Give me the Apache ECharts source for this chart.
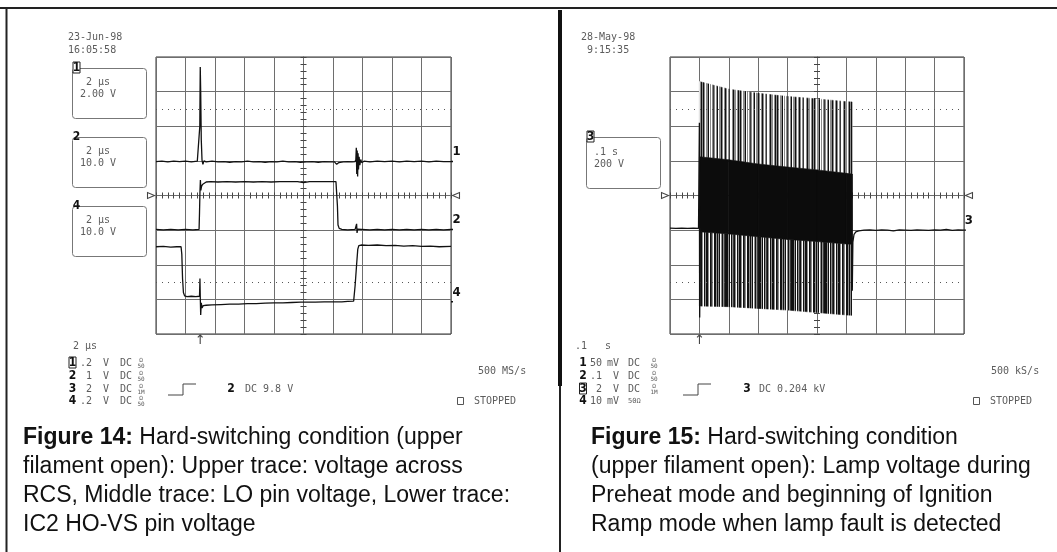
<!DOCTYPE html>
<html>
<head>
<meta charset="utf-8">
<title>Figure 14 / Figure 15</title>
<script src="https://cdn.jsdelivr.net/npm/echarts@6/dist/echarts.min.js"></script>
<style>
  html, body { margin: 0; padding: 0; background: #fff; }
  #scopes { width: 1057px; height: 552px; }
</style>
</head>
<body>
<div id="scopes"></div>
<script>
// ---------- Figure 14 : time in µs (2 µs/div), amplitude in divisions ----------
const ch1Time = [-10, -9.6, -9.2, -8.8, -8.4, -8.0, -7.6, -7.2, -7.08, -7.03, -7.0, -6.97, -6.93, -6.88, -6.82, -6.75, -6.6, -6.2, -5.8, -5.4, -5.0, -4.6, -4.2, -3.8, -3.4, -3.0, -2.6, -2.2, -1.8, -1.4, -1.0, -0.6, -0.2, 0.2, 0.6, 1.0, 1.4, 1.8, 2.1, 2.25, 2.4, 2.7, 3.0, 3.3, 3.5, 3.55, 3.58, 3.61, 3.64, 3.67, 3.70, 3.73, 3.77, 3.82, 3.88, 3.95, 4.1, 4.5, 5.0, 5.5, 6.0, 6.5, 7.0, 7.5, 8.0, 8.5, 9.0, 9.5, 10];
const ch1Volt = [0.98, 0.99, 0.97, 0.99, 0.98, 0.99, 0.97, 0.99, 0.98, 2.0, 3.71, 3.0, 1.6, 1.02, 0.9, 1.0, 0.97, 0.99, 0.97, 0.98, 0.96, 0.98, 0.97, 0.99, 0.97, 0.98, 0.96, 0.98, 0.97, 0.99, 0.97, 0.98, 0.96, 0.97, 0.98, 0.96, 0.98, 0.97, 0.97, 0.90, 0.95, 0.97, 0.98, 0.97, 0.98, 1.05, 1.38, 0.62, 1.30, 0.55, 1.22, 0.75, 1.12, 0.88, 1.04, 0.95, 0.99, 0.97, 0.99, 0.98, 0.99, 0.97, 0.99, 0.98, 0.99, 0.97, 0.99, 0.98, 0.98];

const ch2Time = [-10, -9.5, -9, -8.5, -8, -7.5, -7.08, -7.05, -7.02, -6.99, -6.96, -6.92, -6.85, -6.75, -6.6, -6.3, -5.8, -5.2, -4.6, -4.0, -3.4, -2.8, -2.2, -1.6, -1.0, -0.4, 0, 0.4, 1.0, 1.6, 2.2, 2.26, 2.3, 2.34, 2.42, 2.6, 3.0, 3.5, 3.57, 3.6, 3.63, 3.67, 3.8, 4.5, 5.0, 5.5, 6.0, 6.5, 7.0, 7.5, 8.0, 8.5, 9.0, 9.5, 10];
const ch2Volt = [-0.98, -0.99, -0.98, -0.99, -0.98, -0.99, -0.98, -0.5, 0.1, 0.45, 0.15, 0.25, 0.32, 0.37, 0.39, 0.40, 0.39, 0.40, 0.39, 0.40, 0.39, 0.40, 0.39, 0.40, 0.40, 0.40, 0.37, 0.40, 0.40, 0.40, 0.40, 0.38, -0.3, -0.85, -0.95, -0.98, -0.99, -0.98, -0.98, -0.82, -1.08, -0.97, -0.98, -0.99, -0.98, -0.99, -0.98, -0.99, -0.98, -0.99, -0.98, -0.99, -0.98, -0.99, -0.98];

const ch4Time = [-10, -9.5, -9.0, -8.6, -8.3, -8.25, -8.2, -8.14, -8.06, -7.9, -7.6, -7.3, -7.05, -7.02, -7.0, -6.97, -6.93, -6.88, -6.8, -6.6, -6.2, -5.6, -5.0, -4.4, -3.8, -3.2, -2.6, -2.0, -1.4, -0.8, -0.2, 0.2, 0.8, 1.4, 2.0, 2.6, 3.0, 3.4, 3.5, 3.6, 3.68, 3.75, 3.9, 4.4, 5.0, 5.6, 6.2, 6.8, 7.4, 8.0, 8.6, 9.2, 10];
const ch4Volt = [-1.48, -1.47, -1.49, -1.48, -1.48, -1.7, -2.4, -2.8, -2.9, -2.92, -2.91, -2.92, -2.91, -2.4, -2.9, -3.45, -3.1, -3.25, -3.18, -3.17, -3.16, -3.15, -3.14, -3.14, -3.12, -3.12, -3.11, -3.10, -3.10, -3.09, -3.08, -3.08, -3.08, -3.07, -3.07, -3.07, -3.06, -3.05, -2.6, -2.0, -1.55, -1.45, -1.43, -1.44, -1.43, -1.45, -1.44, -1.46, -1.45, -1.47, -1.46, -1.48, -1.47];

const leftTraceNames = ['1', '2', '4'];
const leftGroundLevels = [0.98, -0.98, -3.07];
const leftTrigger = -7.0;

// ---------- Figure 15 : time in ms (100 ms/div), amplitude in divisions ----------
const ch3Time = [-500, -480, -460, -440, -420, -403, -400, -399, -397, -300, 119, 120, 122, 126, 132, 142, 160, 180, 200, 220, 240, 260, 280, 300, 320, 340, 360, 380, 400, 420, 440, 460, 480, 500];
const ch3Volt = [-0.94, -0.95, -0.94, -0.95, -0.94, -0.95, 2.1, -3.52, -0.95, '-', 0.62, -2.75, -1.35, -1.12, -1.05, -1.02, -1.0, -0.99, -1.01, -0.99, -1.0, -1.02, -0.99, -1.0, -1.01, -0.99, -1.0, -1.01, -0.99, -1.0, -0.98, -1.01, -0.99, -1.0];

// envelope of the ignition burst (divisions)
const burstTime = [-400, -300, -200, -100, 0, 100, 120];
const burstPeakTop = [3.29, 3.07, 2.95, 2.86, 2.79, 2.71, 2.70];
const burstCoreTop = [1.12, 1.03, 0.91, 0.82, 0.74, 0.64, 0.62];
const burstCoreBottom = [-1.05, -1.11, -1.19, -1.27, -1.33, -1.40, -1.41];
const burstPeakBottom = [-3.19, -3.21, -3.26, -3.31, -3.38, -3.45, -3.46];

const rightTraceNames = ['3'];
const rightGroundLevels = [-1.0];
const rightTrigger = -400;

// ---------- scope read-outs ----------
const leftStamp = ['23-Jun-98', '16:05:58'];
const leftBoxes = [['1', '2 µs', '2.00 V'], ['2', '2 µs', '10.0 V'], ['4', '2 µs', '10.0 V']];
const leftTimebase = '2 µs';
const leftRows = [['1', '.2', 'V', 'DC', '50'], ['2', '1', 'V', 'DC', '50'], ['3', '2', 'V', 'DC', '1M'], ['4', '.2', 'V', 'DC', '50']];
const leftTrigText = ['2', 'DC 9.8 V'];
const leftRate = '500 MS/s';

const rightStamp = ['28-May-98', ' 9:15:35'];
const rightBoxes = [['3', '.1 s', '200 V']];
const rightTimebase = ['.1', 's'];
const rightRows = [['1', '50', 'mV', 'DC', '50'], ['2', '.1', 'V', 'DC', '50'], ['3', '2', 'V', 'DC', '1M'], ['4', '10', 'mV', '', '50Ω']];
const rightTrigText = ['3', 'DC 0.204 kV'];
const rightRate = '500 kS/s';

const leftCaption = [
  ['Figure 14:', ' Hard-switching condition (upper'],
  ['', 'filament open): Upper trace: voltage across'],
  ['', 'RCS, Middle trace: LO pin voltage, Lower trace:'],
  ['', 'IC2 HO-VS pin voltage']
];
const rightCaption = [
  ['Figure 15:', ' Hard-switching condition'],
  ['', '(upper filament open): Lamp voltage during'],
  ['', 'Preheat mode and beginning of Ignition'],
  ['', 'Ramp mode when lamp fault is detected']
];

// ---------- styles ----------
const scopeFont = '"DejaVu Sans Mono", monospace';
const digitFont = '"Liberation Sans Narrow", "DejaVu Sans Condensed", sans-serif';
const scopeGray = '#5c5c5c';
const gridGray = '#6e6e6e';
const traceColor = '#111';

function zip(xs, ys) { return xs.map((x, i) => [x, ys[i]]); }

function stripes(codes) {
  const c = document.createElement('canvas');
  c.width = codes.length; c.height = 4;
  const ctx = c.getContext('2d');
  const shade = { k: '#111111', d: '#3a3a3a', g: '#8c8c8c', w: '#ffffff' };
  for (let i = 0; i < codes.length; i++) {
    ctx.fillStyle = shade[codes[i]];
    ctx.fillRect(i, 0, 1, 4);
  }
  return c;
}
const upperTexture = { image: stripes('kgwggkwgwgdgwgkwggkgwgkgwgdwwgkggwgkg'), repeat: 'repeat' };
const lowerTexture = { image: stripes('kkgkwkgdkgwkgkkgwkdgwkkgkgkwgkgdk'), repeat: 'repeat' };

function mainX(grid, min, max, step) {
  return { type: 'value', gridIndex: grid, min: min, max: max, interval: step, position: 'bottom',
    axisLine: { show: false, onZero: false }, axisTick: { show: false }, axisLabel: { show: false },
    splitLine: { show: true, lineStyle: { color: gridGray, width: 1 } } };
}
function mainY(grid) {
  return { type: 'value', gridIndex: grid, min: -4, max: 4, interval: 1, position: 'left',
    axisLine: { show: false, onZero: false }, axisTick: { show: false }, axisLabel: { show: false },
    splitLine: { show: true, lineStyle: { color: gridGray, width: 1 } } };
}
// centre graticule with the 0.2 div marks on both sides
function centreX(grid, min, max, step, up, onIdx) {
  return { type: 'value', gridIndex: grid, min: min, max: max, interval: step, position: 'bottom',
    axisLine: { show: true, onZero: true, onZeroAxisIndex: onIdx, lineStyle: { color: gridGray } },
    axisTick: { show: true, inside: up, length: 3, lineStyle: { color: '#444' } },
    minorTick: { show: true, splitNumber: 5, length: 3, lineStyle: { color: '#444' } },
    axisLabel: { show: false }, splitLine: { show: false } };
}
function centreY(grid, inward, onIdx) {
  return { type: 'value', gridIndex: grid, min: -4, max: 4, interval: 1, position: 'left',
    axisLine: { show: true, onZero: true, onZeroAxisIndex: onIdx, lineStyle: { color: gridGray } },
    axisTick: { show: true, inside: inward, length: 3, lineStyle: { color: '#444' } },
    minorTick: { show: true, splitNumber: 5, length: 3, lineStyle: { color: '#444' } },
    axisLabel: { show: false }, splitLine: { show: false } };
}

function trace(name, xi, data, extra) {
  return Object.assign({ name: name, type: 'line', xAxisIndex: xi, yAxisIndex: xi, data: data,
    showSymbol: false, symbol: 'none', silent: true, z: 5,
    lineStyle: { color: traceColor, width: 1.3 } }, extra || {});
}
// short ground tag just right of the graticule, with the channel number above it
function groundTag(name, xi, xEnd, xOut, level) {
  return { type: 'line', xAxisIndex: xi, yAxisIndex: xi, clip: false, silent: true, z: 5,
    symbol: 'circle', symbolSize: 0, showSymbol: true,
    lineStyle: { color: traceColor, width: 1.4 },
    data: [[xEnd, level], { value: [xOut, level], label: { show: true, formatter: name, position: 'top',
      offset: [-4, 2], fontFamily: digitFont, fontWeight: 'bold', fontSize: 13, color: '#111' } }] };
}
function frameMarks(xMin, xMax, trig) {
  const tri = { symbol: 'triangle', symbolSize: [6, 7], itemStyle: { color: '#fff', borderColor: '#444', borderWidth: 1 }, label: { show: false } };
  return { symbol: 'circle', symbolSize: 0, silent: true, animation: false, data: [
    Object.assign({ coord: [xMin, 0], symbolRotate: -90, symbolOffset: [-5, 0] }, tri),
    Object.assign({ coord: [xMax, 0], symbolRotate: 90, symbolOffset: [5, 0] }, tri),
    { coord: [trig, -4], symbol: 'circle', symbolSize: 0, label: { show: true, formatter: '↑', position: 'bottom', distance: 0,
      fontFamily: 'DejaVu Sans', fontSize: 13, color: '#444' } }
  ] };
}
const dottedLines = { symbol: ['none', 'none'], silent: true, animation: false, label: { show: false },
  lineStyle: { type: [1, 5], color: '#555', width: 1 }, data: [{ yAxis: 2.5 }, { yAxis: -2.5 }] };

// burst band between two envelopes, one quadrilateral per envelope segment
function burstBand(top, bottom, fill) {
  const segs = [];
  for (let i = 0; i + 1 < burstTime.length; i++) {
    segs.push([burstTime[i], burstTime[i + 1], top[i], top[i + 1], bottom[i], bottom[i + 1]]);
  }
  return { type: 'custom', xAxisIndex: 3, yAxisIndex: 3, silent: true, z: 3, clip: true,
    encode: { x: [0, 1], y: [2, 3, 4, 5] }, data: segs,
    renderItem: function (params, api) {
      const pts = [
        api.coord([api.value(0), api.value(2)]), api.coord([api.value(1), api.value(3)]),
        api.coord([api.value(1), api.value(5)]), api.coord([api.value(0), api.value(4)])
      ];
      return { type: 'polygon', shape: { points: pts }, style: { fill: fill, stroke: fill, lineWidth: 0.6 } };
    } };
}

// ---------- series ----------
const series = [];
series.push(trace('ch1', 0, zip(ch1Time, ch1Volt), { markLine: dottedLines }));
series.push(trace('ch2', 0, zip(ch2Time, ch2Volt), { markPoint: frameMarks(-10, 10, leftTrigger) }));
series.push(trace('ch4', 0, zip(ch4Time, ch4Volt)));
leftTraceNames.forEach((n, i) => series.push(groundTag(n, 0, 10, 10.65, leftGroundLevels[i])));

series.push(burstBand(burstCoreBottom, burstPeakBottom, lowerTexture));
series.push(burstBand(burstPeakTop, burstCoreTop, upperTexture));
series.push(burstBand(burstCoreTop, burstCoreBottom, '#0c0c0c'));
series.push(trace('ch3', 3, zip(ch3Time, ch3Volt), { connectNulls: false, markLine: dottedLines,
  markPoint: frameMarks(-500, 500, rightTrigger) }));
rightTraceNames.forEach((n, i) => series.push(groundTag(n, 3, 500, 530, rightGroundLevels[i])));

// ---------- read-out text (layout only) ----------
const g = [];
function txt(x, y, s, o) {
  g.push({ type: 'text', x: x, y: y, silent: true,
    style: Object.assign({ text: s, fontFamily: scopeFont, fontSize: 10, fill: scopeGray, align: 'left', verticalAlign: 'middle' }, o || {}) });
}
function digit(x, y, s, boxed) {
  if (boxed) g.push({ type: 'rect', silent: true, shape: { x: x - 3.5, y: y - 6, width: 7, height: 11 }, style: { fill: '#fff', stroke: '#222', lineWidth: 1 } });
  txt(x, y, s, { fontFamily: digitFont, fontWeight: 'bold', fontSize: 12, fill: '#111', align: 'center' });
}
function ohm(x, y, s) {
  txt(x, y - 3, 'Ω', { fontSize: 6, align: 'center' });
  txt(x, y + 3, s, { fontSize: 6, align: 'center' });
}
function step(x0, x1, x2, yLow, yHigh) {
  g.push({ type: 'polyline', silent: true, shape: { points: [[x0, yLow], [x1, yLow], [x1, yHigh], [x2, yHigh]] }, style: { stroke: '#444', lineWidth: 1, fill: null } });
}
function line(x1, y1, x2, y2, w, c) {
  g.push({ type: 'line', silent: true, shape: { x1: x1, y1: y1, x2: x2, y2: y2 }, style: { stroke: c, lineWidth: w } });
}

const rowY = [363, 376, 389, 401];

// left scope
txt(68, 37, leftStamp[0]); txt(68, 50, leftStamp[1]);
leftBoxes.forEach((b, i) => {
  const top = 68 + i * 69;
  g.push({ type: 'rect', silent: true, shape: { x: 72.5, y: top + 0.5, width: 74, height: 50, r: 3 }, style: { fill: null, stroke: '#777', lineWidth: 1 } });
  digit(76.5, top, b[0], i === 0);
  txt(86, top + 14, b[1]); txt(80, top + 26, b[2]);
});
txt(73, 346, leftTimebase);
leftRows.forEach((r, i) => {
  digit(72.5, rowY[i], r[0], i === 0);
  txt(92, rowY[i], r[1], { align: 'right' });
  txt(103, rowY[i], r[2]);
  txt(120, rowY[i], r[3]);
  ohm(141, rowY[i], r[4]);
});
step(168, 183, 196, 395, 384);
digit(231, rowY[2], leftTrigText[0]); txt(245, rowY[2], leftTrigText[1]);
txt(478, 371, leftRate);
g.push({ type: 'rect', silent: true, shape: { x: 457.5, y: rowY[3] - 3.5, width: 6, height: 7 }, style: { fill: null, stroke: '#555', lineWidth: 1 } });
txt(474, rowY[3], 'STOPPED');

// right scope
txt(581, 37, rightStamp[0]); txt(581, 50, rightStamp[1]);
rightBoxes.forEach((b) => {
  const top = 137;
  g.push({ type: 'rect', silent: true, shape: { x: 586.5, y: top + 0.5, width: 74, height: 51, r: 3 }, style: { fill: null, stroke: '#777', lineWidth: 1 } });
  digit(590.5, top, b[0], true);
  txt(594, top + 15, b[1]); txt(594, top + 27, b[2]);
});
txt(575, 346, rightTimebase[0]); txt(605, 346, rightTimebase[1]);
rightRows.forEach((r, i) => {
  digit(583, rowY[i], r[0], i === 2);
  txt(602, rowY[i], r[1], { align: 'right' });
  txt(619, rowY[i], r[2], { align: 'right' });
  if (r[3]) { txt(628, rowY[i], r[3]); ohm(654, rowY[i], r[4]); }
  else txt(628, rowY[i], r[4], { fontSize: 7 });
});
step(683, 698, 711, 395, 384);
digit(747, rowY[2], rightTrigText[0]); txt(759, rowY[2], rightTrigText[1]);
txt(991, 371, rightRate);
g.push({ type: 'rect', silent: true, shape: { x: 973.5, y: rowY[3] - 3.5, width: 6, height: 7 }, style: { fill: null, stroke: '#555', lineWidth: 1 } });
txt(990, rowY[3], 'STOPPED');

// captions
const capY = [438, 467, 496, 525];
function caption(x, lines) {
  lines.forEach((l, i) => {
    g.push({ type: 'text', x: x, y: capY[i], silent: true, style: {
      text: (l[0] ? '{b|' + l[0] + '}' : '') + l[1],
      fontFamily: '"Liberation Sans", Arial, sans-serif', fontSize: 23, fill: '#111', verticalAlign: 'middle',
      rich: { b: { fontFamily: '"Liberation Sans", Arial, sans-serif', fontSize: 23, fontWeight: 'bold', fill: '#111' } } } });
  });
}
caption(23, leftCaption);
caption(591, rightCaption);

// page frame
line(0, 8, 1057, 8, 2, '#222');
line(6.5, 8, 6.5, 552, 2, '#222');
line(560, 10, 560, 386, 4, '#111');
line(560, 386, 560, 552, 2, '#222');

// ---------- chart ----------
const chart = echarts.init(document.getElementById('scopes'), null, { renderer: 'canvas' });
chart.setOption({
  animation: false,
  backgroundColor: '#fff',
  grid: [
    { left: 156, top: 57, width: 295, height: 277, show: true, borderColor: '#333', borderWidth: 1, containLabel: false, outerBoundsMode: 'none' },
    { left: 670, top: 57, width: 294, height: 277, show: true, borderColor: '#333', borderWidth: 1, containLabel: false, outerBoundsMode: 'none' }
  ],
  xAxis: [
    mainX(0, -10, 10, 2), centreX(0, -10, 10, 2, true, 0), centreX(0, -10, 10, 2, false, 0),
    mainX(1, -500, 500, 100), centreX(1, -500, 500, 100, true, 3), centreX(1, -500, 500, 100, false, 3)
  ],
  yAxis: [
    mainY(0), centreY(0, true, 0), centreY(0, false, 0),
    mainY(1), centreY(1, true, 3), centreY(1, false, 3)
  ],
  series: series,
  graphic: g
});
</script>
</body>
</html>
